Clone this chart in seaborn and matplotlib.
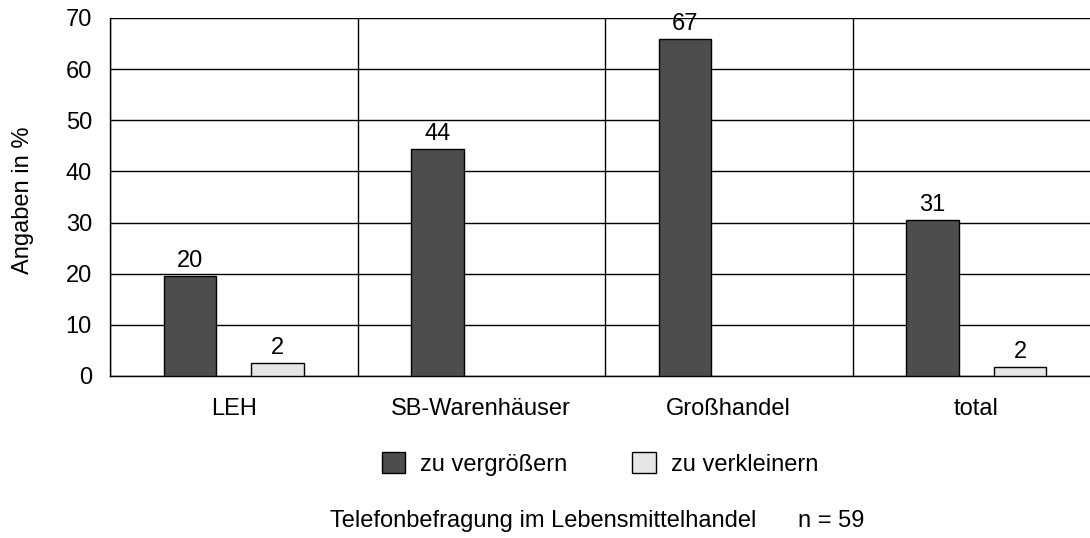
import numpy as np
import pandas as pd
import matplotlib
matplotlib.use("Agg")
from matplotlib import pyplot as plt
from matplotlib.patches import Patch
import seaborn as sns

categories = ["LEH", "SB-Warenhäuser", "Großhandel", "total"]
series = ["zu vergrößern", "zu verkleinern"]
# bar heights, printed labels as in the original
groesser = [19.6, 44.4, 65.8, 30.5]
groesser_lbl = ["20", "44", "67", "31"]
kleiner = [2.5, None, None, 1.8]
kleiner_lbl = ["2", "2"]
colors = ["#4d4d4d", "#e6e6e6"]

rows = []
for c, v in zip(categories, groesser):
    rows.append([c, series[0], v])
for c, v in zip(categories, kleiner):
    if v is not None:
        rows.append([c, series[1], v])
df = pd.DataFrame(rows, columns=["Kategorie", "Serie", "Wert"])

FS = 17
sns.set_style("white")
plt.rcParams["font.family"] = ["Liberation Sans", "DejaVu Sans"]
plt.rcParams["font.size"] = FS
for k in ["text.color", "axes.labelcolor", "xtick.color", "ytick.color"]:
    plt.rcParams[k] = "black"

fig = plt.figure(figsize=(10.9, 5.38), dpi=100)
ax = fig.add_axes([110 / 1090, 1 - 376 / 538, 990 / 1090, 358 / 538])

sns.barplot(data=df, x="Kategorie", y="Wert", hue="Serie", order=categories,
            hue_order=series, palette=colors, width=0.707, gap=0.395,
            edgecolor="black", linewidth=1, saturation=1, legend=False, ax=ax,
            zorder=3)

for cont, lbls in zip(ax.containers, [groesser_lbl, kleiner_lbl]):
    ax.bar_label(cont, labels=lbls, padding=3, fontsize=FS)

ax.set_xlim(-0.5, 3.5)
ax.set_ylim(0, 70)
ax.set_yticks(range(0, 71, 10))
ax.set_xticks(range(len(categories)))
ax.set_xticks(np.arange(-0.5, 3.5, 1), minor=True)
ax.tick_params(axis="x", which="major", length=0, pad=16, labelsize=FS)
ax.tick_params(axis="x", which="minor", length=6.5, width=1, color="black",
               direction="out")
ax.tick_params(axis="y", length=6, width=1, color="black", direction="out",
               pad=7, labelsize=FS)
ax.yaxis.grid(True, color="black", linewidth=1)
ax.xaxis.grid(True, which="minor", color="black", linewidth=1)
ax.set_axisbelow(True)
for s in ["top", "right"]:
    ax.spines[s].set_visible(False)
for s in ["left", "bottom"]:
    ax.spines[s].set_color("black")
    ax.spines[s].set_linewidth(1)
ax.set_xlabel("")
ax.set_ylabel("Angaben in %", fontsize=FS)
ax.yaxis.set_label_coords((34 - 110) / 990, (376 - 200) / 358)

handles = [Patch(facecolor=colors[i], edgecolor="black", linewidth=1, label=series[i])
           for i in range(2)]
fig.legend(handles=handles, loc="center", bbox_to_anchor=(600 / 1090, 1 - 464 / 538),
           ncol=2, frameon=False, handlelength=0.98, handleheight=0.98,
           handletextpad=0.64, columnspacing=2.75, fontsize=FS)

fig.text(330 / 1090, 1 - 521 / 538, "Telefonbefragung im Lebensmittelhandel",
         ha="left", va="center", fontsize=FS)
fig.text(798 / 1090, 1 - 521 / 538, "n = 59", ha="left", va="center",
         fontsize=FS)

fig.savefig("out.png", dpi=100)
